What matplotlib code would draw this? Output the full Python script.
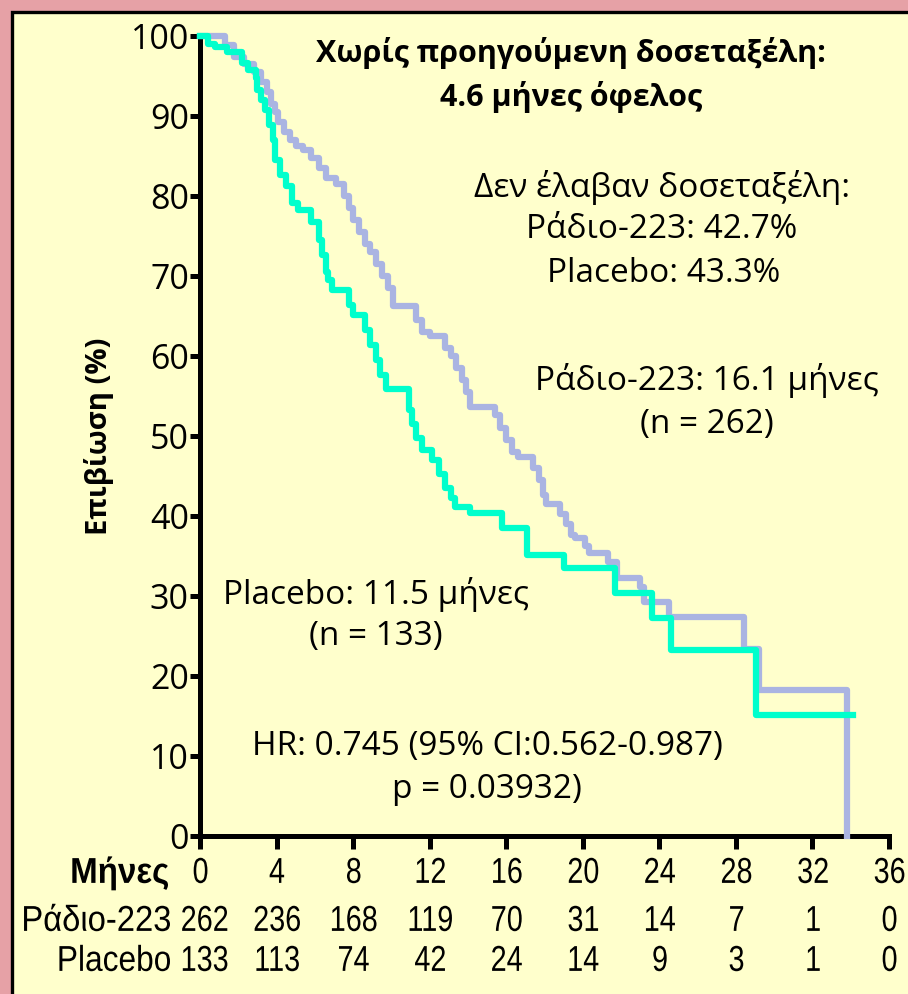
import matplotlib.pyplot as plt
import matplotlib.transforms as mtransforms
from matplotlib.patches import Rectangle, PathPatch
from matplotlib.textpath import TextPath
from matplotlib.font_manager import FontProperties

# Kaplan-Meier steps (months, survival %)
radio_t = [0, 1.3, 1.8, 2.3, 2.8, 3.2, 3.5, 3.7, 3.9, 4.1, 4.4, 4.7, 5.0, 5.4, 5.8,
           6.2, 6.6, 7.1, 7.5, 7.8, 8.0, 8.3, 8.6, 8.9, 9.2, 9.5, 9.8, 10.1, 11.3,
           11.6, 12.0, 12.8, 13.1, 13.4, 13.7, 13.9, 14.1, 15.4, 15.7, 16.0, 16.3,
           16.6, 17.4, 17.7, 17.9, 18.1, 18.8, 19.1, 19.4, 19.6, 20.1, 20.3, 21.3,
           21.8, 23.0, 23.2, 24.5, 28.4, 29.2, 33.8]
radio_s = [100, 98.9, 97.4, 96.5, 95.5, 94.3, 93.0, 91.5, 90.5, 89.2, 88.0, 87.0,
           86.2, 85.8, 84.8, 83.5, 82.3, 81.5, 80.0, 78.5, 77.0, 75.5, 74.0, 73.0,
           71.5, 70.0, 68.5, 66.2, 64.5, 63.0, 62.5, 61.0, 60.0, 58.5, 57.0, 55.5,
           53.6, 52.6, 51.0, 49.5, 48.0, 47.4, 46.0, 44.5, 42.6, 41.5, 40.3, 39.0,
           37.6, 37.3, 36.2, 35.4, 34.2, 32.2, 31.1, 29.2, 27.4, 23.4, 18.3, 0]

placebo_t = [0, 0.4, 0.8, 1.4, 2.2, 2.5, 2.9, 3.0, 3.2, 3.4, 3.6, 3.8, 3.9, 4.2,
             4.5, 4.8, 5.1, 5.8, 6.2, 6.4, 6.6, 6.7, 6.9, 7.8, 8.0, 8.6, 8.9, 9.2,
             9.4, 9.7, 10.9, 11.1, 11.3, 11.6, 12.1, 12.5, 12.8, 13.1, 13.3, 14.1,
             15.8, 17.1, 19.0, 21.7, 23.6, 24.6, 29.05, 34.1]
placebo_s = [100, 99.0, 98.6, 98.0, 96.6, 95.8, 94.8, 93.2, 92.0, 90.8, 88.9, 87.0,
             84.5, 82.6, 81.2, 79.1, 78.2, 76.7, 74.5, 72.6, 70.5, 69.5, 68.3, 66.4,
             65.1, 63.2, 61.4, 59.5, 57.6, 55.9, 53.3, 51.5, 49.8, 48.3, 47.0, 45.3,
             43.5, 42.2, 41.1, 40.4, 38.5, 35.1, 33.5, 30.4, 27.2, 23.2, 15.1, 15.1]

months = [0, 4, 8, 12, 16, 20, 24, 28, 32, 36]
risk_radio = [262, 236, 168, 119, 70, 31, 14, 7, 1, 0]
risk_placebo = [133, 113, 74, 42, 24, 14, 9, 3, 1, 0]

W, H = 908, 994
main_font = ['Open Sans', 'DejaVu Sans']

fig = plt.figure(figsize=(W / 100, H / 100), dpi=100, facecolor='#E6A1A6')
px = mtransforms.Affine2D().scale(1 / W, 1 / H) + fig.transFigure

# pale yellow panel with a black edge
panel = Rectangle((11.5 / W, -0.05), 1.1, (H - 11.5) / H + 0.05,
                  transform=fig.transFigure, facecolor='#FFFFCC',
                  edgecolor='black', linewidth=2.4, zorder=-5)
fig.add_artist(panel)

x0_px, x1_px, y0_px, y1_px = 200, 889, 836, 36
ax = fig.add_axes([x0_px / W, (H - y0_px) / H, (x1_px - x0_px) / W,
                   (y0_px - y1_px) / H])
ax.set_facecolor('none')

ax.step(radio_t, radio_s, where='post', color='#AAB4E2', lw=4.5,
        clip_on=False, zorder=3)
ax.step(placebo_t, placebo_s, where='post', color='#00FFCC', lw=4.5,
        clip_on=False, zorder=4)

ax.set_xlim(0, 36)
ax.set_ylim(0, 100)
for side in ['top', 'right']:
    ax.spines[side].set_visible(False)
for side in ['left', 'bottom']:
    ax.spines[side].set_linewidth(3.6)

ax.set_yticks(range(0, 101, 10))
ax.set_yticklabels([str(v) for v in range(0, 101, 10)], family=main_font,
                   fontsize=24.5)
ax.tick_params(axis='y', length=7, width=3.6, pad=1)
ax.set_xticks(months)
ax.tick_params(axis='x', length=9, width=3.6, labelbottom=False)

ax.set_ylabel('Επιβίωση (%)', family=main_font, fontsize=21,
              fontweight='bold')
ax.yaxis.set_label_coords(-0.125, 0.5)


def month_px(m):
    return x0_px + m * (x1_px - x0_px) / 36


# condensed text for the month axis and the numbers-at-risk table
def narrow(x, y, s, size=36, squeeze=0.8, ha='center', bold=False):
    fp = FontProperties(family='Liberation Sans',
                        weight='bold' if bold else 'normal')
    tp = TextPath((0, 0), s, size=size, prop=fp)
    ext = tp.get_extents()
    w = (ext.x0 + ext.width) * squeeze
    left = {'center': x - w / 2, 'right': x - w, 'left': x}[ha]
    base = H - y - 0.716 * size / 2
    tr = mtransforms.Affine2D().scale(squeeze, 1).translate(left, base) + px
    fig.add_artist(PathPatch(tp, transform=tr, facecolor='black', lw=0))


narrow(168, 870, 'Μήνες', bold=True, squeeze=0.92, ha='right')
for m in months:
    narrow(month_px(m), 870, str(m))

rows = [('Ράδιο-223', risk_radio, 918, 0.91), ('Placebo', risk_placebo, 958, 0.88)]
for name, counts, y, sq in rows:
    narrow(170, y, name, squeeze=sq, ha='right')
    for m, n in zip(months, counts):
        narrow(month_px(m) + 4 * (m == 0), y, str(n))


# annotations
def note(x, y, s, **kw):
    fig.text(x / W, 1 - y / H, s, ha='center', va='center',
             family=main_font, **kw)


note(571, 53, 'Χωρίς προηγούμενη δοσεταξέλη:', fontsize=22, fontweight='bold')
note(571, 97, '4.6 μήνες όφελος', fontsize=22, fontweight='bold')
note(662, 187, 'Δεν έλαβαν δοσεταξέλη:', fontsize=24)
note(662, 230, 'Ράδιο-223: 42.7%', fontsize=24)
note(664, 273, 'Placebo: 43.3%', fontsize=24)
note(707, 381, 'Ράδιο-223: 16.1 μήνες', fontsize=24)
note(707, 424, '(n = 262)', fontsize=24)
note(376, 594, 'Placebo: 11.5 μήνες', fontsize=24)
note(376, 637, '(n = 133)', fontsize=24)
note(487, 746, 'HR: 0.745 (95% CI:0.562-0.987)', fontsize=24)
note(487, 789, 'p = 0.03932)', fontsize=24)

fig.savefig('out.png', dpi=100, facecolor=fig.get_facecolor())
